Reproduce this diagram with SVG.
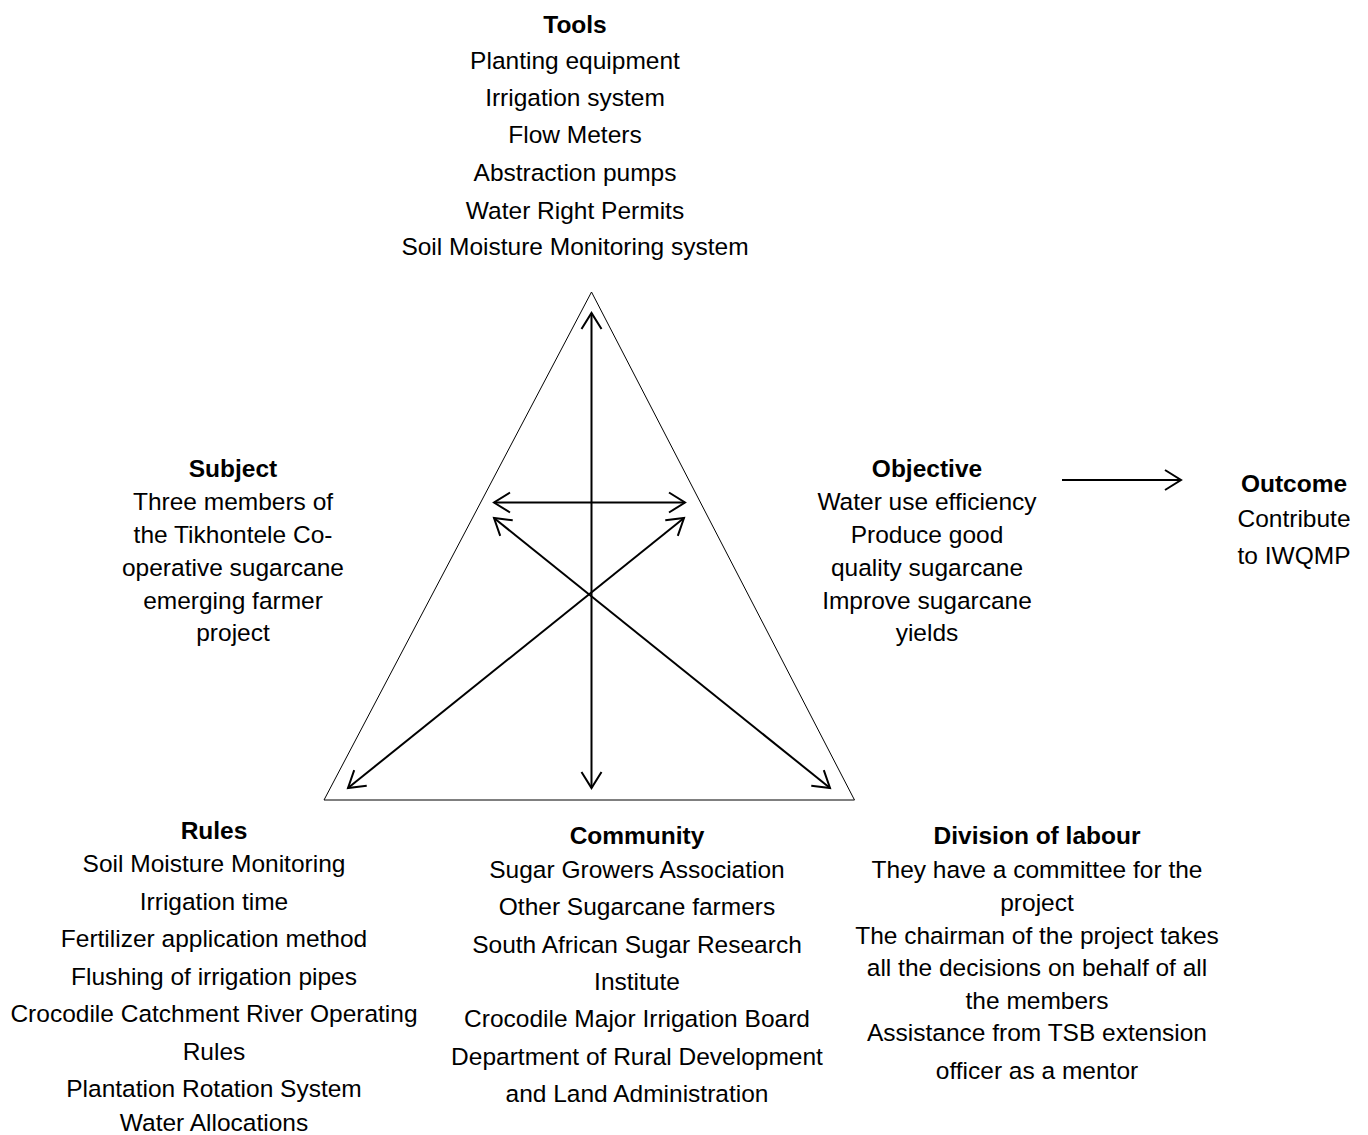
<svg xmlns="http://www.w3.org/2000/svg" width="1368" height="1135" viewBox="0 0 1368 1135">
  <style>
    text { font-family: "Liberation Sans", Arial, sans-serif; font-size: 24.5px; fill: #000; text-anchor: middle; }
    .title { font-weight: bold; }
    .frame { fill: none; stroke: #000; stroke-width: 1; }
    .link { fill: none; stroke: #000; stroke-width: 2; }
  </style>
  <defs>
    <marker id="head" markerUnits="userSpaceOnUse" viewBox="-20 -12 22 24" refX="0" refY="0" markerWidth="22" markerHeight="24" orient="auto-start-reverse" overflow="visible">
      <path d="M-16,-10 L0,0 L-16,10" fill="none" stroke="#000" stroke-width="2" stroke-linejoin="miter"/>
    </marker>
  </defs>

  <rect width="1368" height="1135" fill="#fff"/>

  <!-- activity triangle -->
  <polygon class="frame" points="591.5,292 324,800 854.5,800"/>

  <!-- relations between the elements -->
  <g id="connectors">
    <line class="link" x1="591.5" y1="313" x2="591.5" y2="788" marker-start="url(#head)" marker-end="url(#head)"/>
    <line class="link" x1="494" y1="502.5" x2="685" y2="502.5" marker-start="url(#head)" marker-end="url(#head)"/>
    <line class="link" x1="348" y1="788" x2="684" y2="518" marker-start="url(#head)" marker-end="url(#head)"/>
    <line class="link" x1="494" y1="518" x2="830" y2="788" marker-start="url(#head)" marker-end="url(#head)"/>
    <line class="link" x1="1062" y1="480" x2="1181" y2="480" marker-end="url(#head)"/>
  </g>

  <g id="tools">
    <text class="title" x="575" y="33">Tools</text>
    <text x="575" y="69">Planting equipment</text>
    <text x="575" y="106">Irrigation system</text>
    <text x="575" y="143">Flow Meters</text>
    <text x="575" y="181">Abstraction pumps</text>
    <text x="575" y="219">Water Right Permits</text>
    <text x="575" y="255">Soil Moisture Monitoring system</text>
  </g>

  <g id="subject">
    <text class="title" x="233" y="477">Subject</text>
    <text x="233" y="510">Three members of</text>
    <text x="233" y="543">the Tikhontele Co-</text>
    <text x="233" y="576">operative sugarcane</text>
    <text x="233" y="609">emerging farmer</text>
    <text x="233" y="641">project</text>
  </g>

  <g id="objective">
    <text class="title" x="927" y="477">Objective</text>
    <text x="927" y="510">Water use efficiency</text>
    <text x="927" y="543">Produce good</text>
    <text x="927" y="576">quality sugarcane</text>
    <text x="927" y="609">Improve sugarcane</text>
    <text x="927" y="641">yields</text>
  </g>

  <g id="outcome">
    <text class="title" x="1294" y="492">Outcome</text>
    <text x="1294" y="527">Contribute</text>
    <text x="1294" y="564">to IWQMP</text>
  </g>

  <g id="rules">
    <text class="title" x="214" y="839">Rules</text>
    <text x="214" y="872">Soil Moisture Monitoring</text>
    <text x="214" y="910">Irrigation time</text>
    <text x="214" y="947">Fertilizer application method</text>
    <text x="214" y="985">Flushing of irrigation pipes</text>
    <text x="214" y="1022">Crocodile Catchment River Operating</text>
    <text x="214" y="1060">Rules</text>
    <text x="214" y="1097">Plantation Rotation System</text>
    <text x="214" y="1131">Water Allocations</text>
  </g>

  <g id="community">
    <text class="title" x="637" y="844">Community</text>
    <text x="637" y="878">Sugar Growers Association</text>
    <text x="637" y="915">Other Sugarcane farmers</text>
    <text x="637" y="953">South African Sugar Research</text>
    <text x="637" y="990">Institute</text>
    <text x="637" y="1027">Crocodile Major Irrigation Board</text>
    <text x="637" y="1065">Department of Rural Development</text>
    <text x="637" y="1102">and Land Administration</text>
  </g>

  <g id="division-of-labour">
    <text class="title" x="1037" y="844">Division of labour</text>
    <text x="1037" y="878">They have a committee for the</text>
    <text x="1037" y="911">project</text>
    <text x="1037" y="944">The chairman of the project takes</text>
    <text x="1037" y="976">all the decisions on behalf of all</text>
    <text x="1037" y="1009">the members</text>
    <text x="1037" y="1041">Assistance from TSB extension</text>
    <text x="1037" y="1079">officer as a mentor</text>
  </g>
</svg>
